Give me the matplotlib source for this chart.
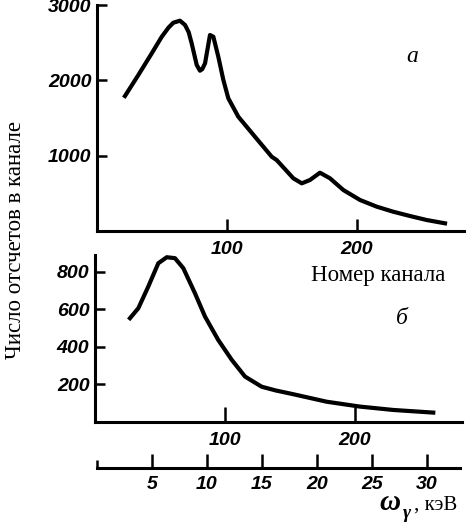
import matplotlib
matplotlib.use("Agg")
import matplotlib.pyplot as plt

# spectrum (a): channel number vs counts per channel
chan_a = [21.5, 31.8, 42.1, 49.8, 55.0, 58.7, 63.8, 67.7, 70.5, 72.8, 76.7, 79.2, 81.0,
          83.1, 86.9, 89.5, 93.3, 97.2, 101.0, 108.7, 121.5, 134.4, 138.2, 151.0, 157.5,
          163.8, 171.5, 179.2, 189.5, 202.3, 215.2, 227.9, 240.8, 253.6, 267.7]
counts_a = [1792, 2071, 2359, 2579, 2700, 2765, 2792, 2735, 2640, 2492, 2204, 2128, 2150,
            2226, 2602, 2579, 2314, 2004, 1762, 1517, 1252, 986, 942, 700, 633,
            677, 774, 700, 544, 412, 323, 256, 199, 146, 102]

# spectrum (б)
chan_b = [26.9, 33.3, 41.0, 48.7, 55.2, 61.5, 67.9, 76.9, 84.6, 94.8, 105.2, 115.4,
          128.2, 139.0, 152.5, 178.2, 203.8, 229.5, 260.2]
counts_b = [553, 606, 722, 846, 878, 873, 820, 686, 562, 437, 331, 242,
            188, 168, 148, 108, 82, 64, 50]

yticks_a = [1000, 2000, 3000]
yticks_b = [200, 400, 600, 800]
xticks_chan = [100, 200]
kev_ticks = [5, 10, 15, 20, 25, 30]

tickfont = dict(family=["Liberation Sans", "DejaVu Sans"], weight="bold",
                style="italic", size=14)
serif = ["Liberation Serif", "DejaVu Serif"]
LW = 2.2


def style_axis(ax):
    for s in ["top", "right"]:
        ax.spines[s].set_visible(False)
    for s in ["left", "bottom"]:
        ax.spines[s].set_linewidth(LW)
    ax.tick_params(axis="y", direction="in", length=7, width=1.8, pad=4)
    ax.tick_params(axis="x", direction="in", length=9, width=1.8, pad=7)
    for lab in ax.get_xticklabels() + ax.get_yticklabels():
        lab.set_fontproperties(matplotlib.font_manager.FontProperties(**tickfont))


fig = plt.figure(figsize=(4.68, 5.29), dpi=100)

ax1 = fig.add_axes([0.2073, 0.5633, 0.7833, 0.4272])
ax1.plot(chan_a, counts_a, color="black", lw=3, solid_joinstyle="round")
ax1.set_xlim(0, 282)
ax1.set_ylim(0, 3000)
ax1.set_yticks(yticks_a)
ax1.set_xticks(xticks_chan)
style_axis(ax1)

ax2 = fig.add_axes([0.2030, 0.2023, 0.7833, 0.3157])
ax2.plot(chan_b, counts_b, color="black", lw=3, solid_joinstyle="round")
ax2.set_xlim(0, 282)
ax2.set_ylim(0, 890)
ax2.set_yticks(yticks_b)
ax2.set_xticks(xticks_chan)
style_axis(ax2)
ax2.tick_params(axis="x", length=11)

# energy scale
ax3 = fig.add_axes([0.2073, 0.1153, 0.7756, 0.0001])
ax3.set_xlim(0, 33)
ax3.set_yticks([])
for s in ["top", "right", "left"]:
    ax3.spines[s].set_visible(False)
ax3.spines["bottom"].set_linewidth(LW)
ax3.set_xticks(kev_ticks)
ax3.set_xticks([0], minor=True)
ax3.tick_params(axis="x", which="major", direction="in", length=10, width=1.8, pad=6)
ax3.tick_params(axis="x", which="minor", direction="in", length=6, width=1.8)
for lab in ax3.get_xticklabels():
    lab.set_fontproperties(matplotlib.font_manager.FontProperties(**tickfont))

fig.text(16 / 468, 1 - 240 / 529, "Число отсчетов в канале", family=serif,
         fontsize=16.5, rotation=90, ha="center", va="center")
fig.text(378 / 468, 1 - 275 / 529, "Номер канала", family=serif, fontsize=16.5,
         ha="center", va="center")
fig.text(412 / 468, 1 - 57 / 529, "а", family=serif, style="italic", fontsize=17,
         ha="center", va="center")
fig.text(402 / 468, 1 - 318 / 529, "б", family=serif, style="italic", fontsize=17,
         ha="center", va="center")
fig.text(390 / 468, 1 - 503 / 529, "ω", family=serif, style="italic",
         weight="bold", fontsize=21, ha="center", va="center")
fig.text(407 / 468, 1 - 514 / 529, "γ", family=serif, style="italic",
         weight="bold", fontsize=14, ha="center", va="center")
fig.text(414 / 468, 1 - 505 / 529, ", кэВ", family=serif, fontsize=15,
         ha="left", va="center")

fig.savefig("out.png", dpi=100)
